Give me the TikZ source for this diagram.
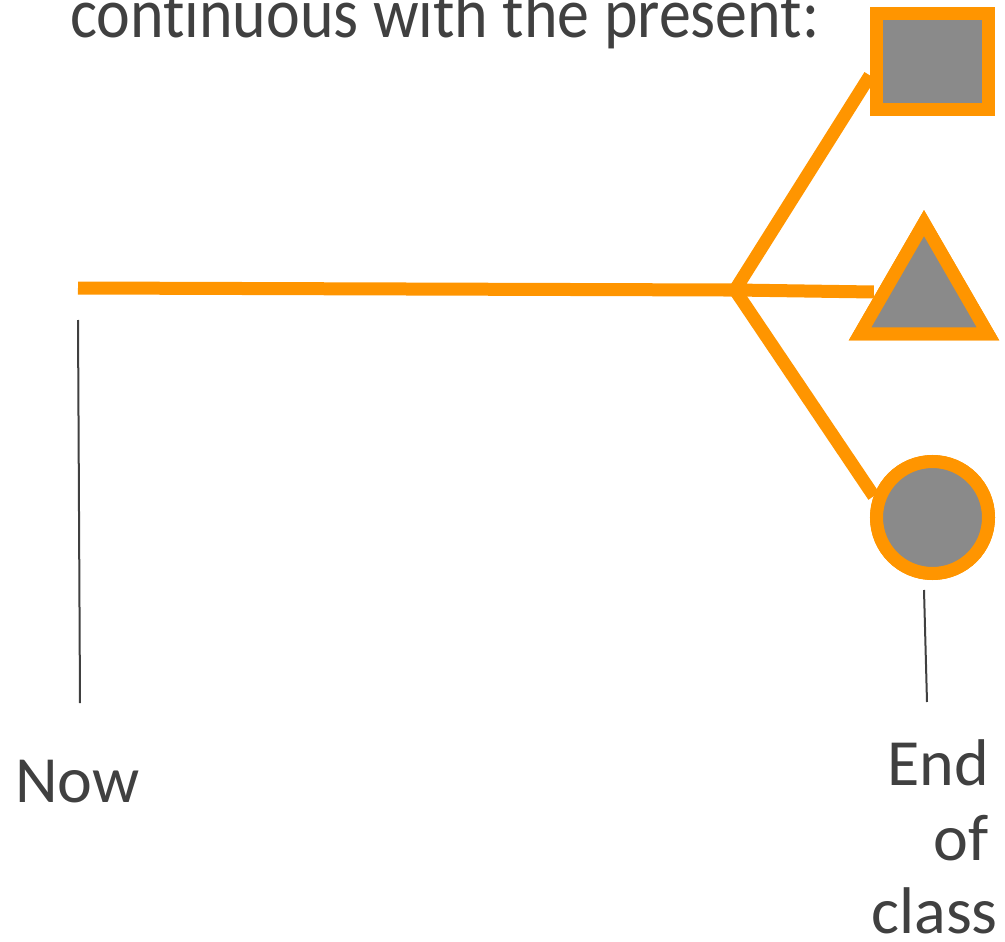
\documentclass[tikz,border=0pt]{standalone}
\usepackage{fontspec}
\setmainfont{Carlito}[Ligatures={NoCommon,NoContextual}]
\usetikzlibrary{shapes.geometric,calc}
\definecolor{orng}{RGB}{255,149,0}
\definecolor{shapegray}{RGB}{138,138,138}
\definecolor{txt}{RGB}{64,64,64}
\tikzset{
  branchline/.style={draw=orng,line width=13pt,line join=miter},
  marker/.style={draw=orng,fill=shapegray,line width=13pt,inner sep=0pt},
  tick/.style={draw=txt,line width=2pt},
  lbl/.style={text=txt,inner sep=0pt,font=\fontsize{66}{74}\selectfont}
}
\begin{document}
\begin{tikzpicture}[x=1pt,y=-1pt]
\useasboundingbox (0,0) rectangle (1005,942);
% markers
\node[marker,rectangle,minimum width=112pt,minimum height=96pt] (sq) at (932.5,61.5) {};
\node[marker,regular polygon,regular polygon sides=3,minimum size=147.8pt,line join=miter] (tri) at (924,297) {};
\node[marker,circle,minimum size=112pt] (circ) at (932.5,517.5) {};
% timeline
\coordinate (start) at (78,288);
\coordinate (branch) at (735,290);
\path[branchline] (start) -- (branch);
\path[branchline] ([yshift=-14pt]sq.west) -- (branch) -- ([yshift=5pt]tri.west);
\path[branchline] (branch) -- (circ.160);
% redraw markers on top of the branch lines
\node[marker,rectangle,minimum width=112pt,minimum height=96pt] at (sq) {};
\node[marker,regular polygon,regular polygon sides=3,minimum size=147.8pt,line join=miter] at (tri) {};
\node[marker,circle,minimum size=112pt] at (circ) {};
% ticks
\coordinate (nowtop) at (78,320);
\coordinate (nowbot) at (80,703);
\coordinate (endtop) at (924,590);
\coordinate (endbot) at (927,702);
\path[tick] (nowtop) -- (nowbot);
\path[tick] (endtop) -- (endbot);
% labels
\node[lbl,anchor=base west] (now) at (15,802) {Now};
\node[lbl,anchor=base east] (end1) at (989,785) {End};
\node[lbl,anchor=base east] (end2) at (989,860) {of};
\node[lbl,anchor=base east] (end3) at (998,933) {class};
\node[text=txt,inner sep=0pt,anchor=base west,font=\fontsize{71}{80}\selectfont] (title) at (70,38) {\scalebox{0.9}[1]{continuous with the present:}};
\end{tikzpicture}
\end{document}
